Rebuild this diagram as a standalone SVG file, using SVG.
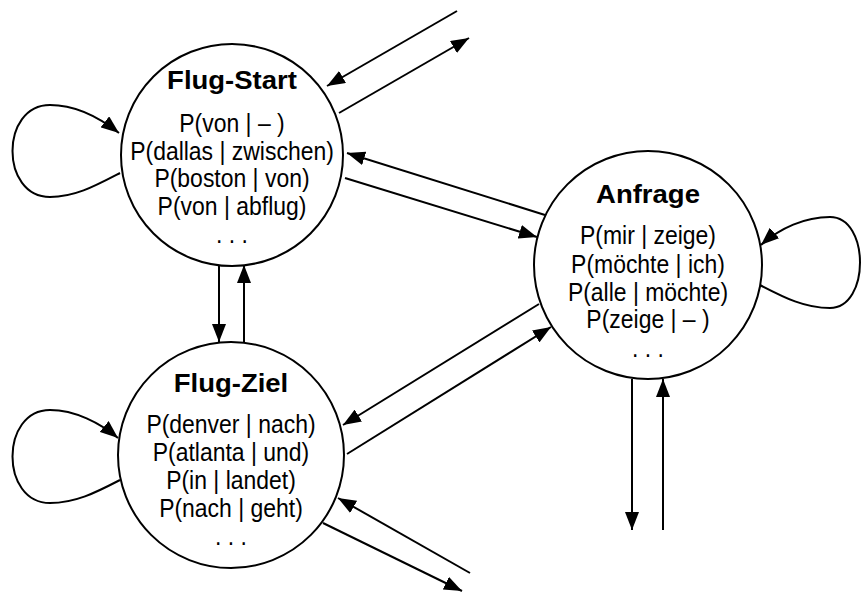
<svg xmlns="http://www.w3.org/2000/svg" width="861" height="593" viewBox="0 0 861 593">
  <defs>
    <marker id="arrow" viewBox="0 0 18 14" refX="18" refY="7" markerWidth="18" markerHeight="14" markerUnits="userSpaceOnUse" orient="auto">
      <path d="M0,0 L18,7 L0,14 z" fill="#000"/>
    </marker>
  </defs>
  <style>
    .state { fill: #fff; stroke: #000; stroke-width: 2; }
    .title { font-family: "Liberation Sans", Arial, sans-serif; font-weight: bold; font-size: 25px; text-anchor: middle; fill: #000; }
    .prob { font-family: "Liberation Sans", Arial, sans-serif; font-size: 25.5px; text-anchor: middle; fill: #000; }
    .edge { fill: none; stroke: #000; stroke-width: 2; marker-end: url(#arrow); }
  </style>

  <rect width="861" height="593" fill="#fff"/>

  <!-- transitions -->
  <g id="connectors">
    <!-- self loops -->
    <path class="edge" d="M120,173 C95,186 75,197 50,197 C0,197 0,105 50,105 C75,105 100,118 119,133"/>
    <path class="edge" d="M120,480 C95,493 75,503 50,503 C0,503 0,410 50,410 C75,410 100,423 118,438"/>
    <path class="edge" d="M760,285 C785,298 805,308 830,308 C870,308 870,217 830,217 C805,217 780,228 761,245"/>

    <!-- Flug-Start to/from outside -->
    <line class="edge" x1="457" y1="11" x2="327" y2="86"/>
    <line class="edge" x1="339" y1="113" x2="469" y2="38"/>

    <!-- Flug-Start <-> Anfrage -->
    <line class="edge" x1="545" y1="215" x2="347" y2="153"/>
    <line class="edge" x1="345" y1="178" x2="537" y2="237"/>

    <!-- Flug-Start <-> Flug-Ziel -->
    <line class="edge" x1="219" y1="265" x2="219" y2="342"/>
    <line class="edge" x1="244" y1="342" x2="244" y2="265"/>

    <!-- Flug-Ziel <-> Anfrage -->
    <line class="edge" x1="539" y1="304" x2="343" y2="425"/>
    <line class="edge" x1="347" y1="454" x2="551" y2="327"/>

    <!-- Flug-Ziel to/from outside -->
    <line class="edge" x1="470" y1="573" x2="338" y2="498"/>
    <line class="edge" x1="323" y1="523" x2="462" y2="591"/>

    <!-- Anfrage to/from outside -->
    <line class="edge" x1="632" y1="379" x2="632" y2="530"/>
    <line class="edge" x1="663" y1="530" x2="663" y2="379"/>
  </g>

  <g id="flug-start">
    <circle class="state" cx="232" cy="155" r="111"/>
    <text class="title" transform="translate(232,89) scale(1.1,1)">Flug-Start</text>
    <g transform="translate(232,0) scale(0.9,1)">
      <text class="prob" x="0" y="132">P(von | – )</text>
      <text class="prob" x="0" y="160">P(dallas | zwischen)</text>
      <text class="prob" x="0" y="187">P(boston | von)</text>
      <text class="prob" x="0" y="215">P(von | abflug)</text>
      <text class="prob" x="0" y="243">. . .</text>
    </g>
  </g>

  <g id="flug-ziel">
    <circle class="state" cx="231" cy="455" r="113"/>
    <text class="title" transform="translate(231,392) scale(1.1,1)">Flug-Ziel</text>
    <g transform="translate(231,0) scale(0.9,1)">
      <text class="prob" x="0" y="433">P(denver | nach)</text>
      <text class="prob" x="0" y="461">P(atlanta | und)</text>
      <text class="prob" x="0" y="489">P(in | landet)</text>
      <text class="prob" x="0" y="517">P(nach | geht)</text>
      <text class="prob" x="0" y="545">. . .</text>
    </g>
  </g>

  <g id="anfrage">
    <circle class="state" cx="648" cy="265" r="114"/>
    <text class="title" transform="translate(648,203) scale(1.1,1)">Anfrage</text>
    <g transform="translate(648,0) scale(0.9,1)">
      <text class="prob" x="0" y="244">P(mir | zeige)</text>
      <text class="prob" x="0" y="273">P(möchte | ich)</text>
      <text class="prob" x="0" y="301">P(alle | möchte)</text>
      <text class="prob" x="0" y="328">P(zeige | – )</text>
      <text class="prob" x="0" y="357">. . .</text>
    </g>
  </g>
</svg>
